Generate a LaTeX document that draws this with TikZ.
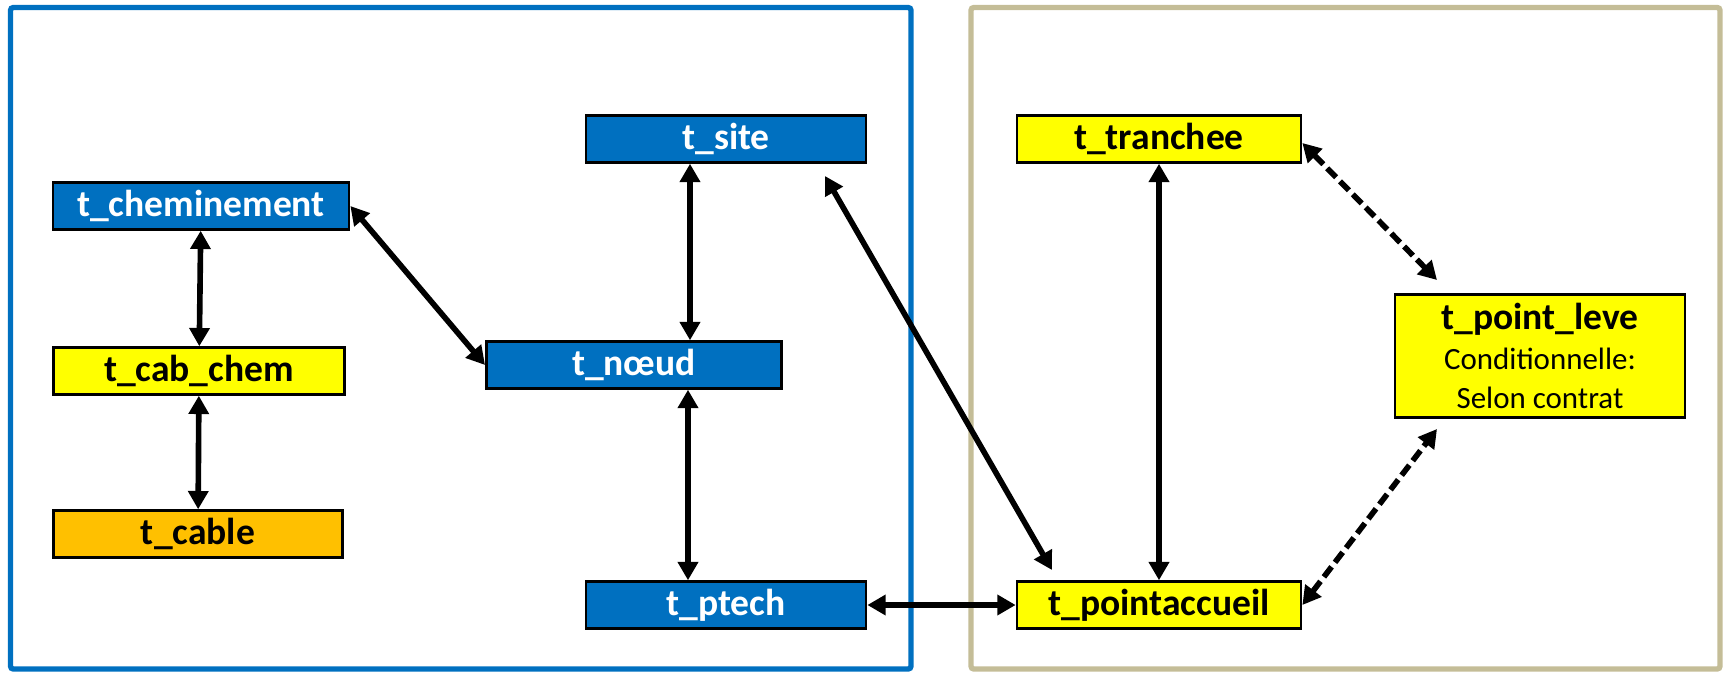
\documentclass[tikz,border=0pt]{standalone}
\usepackage{fontspec}
\setmainfont{Carlito}
\usetikzlibrary{arrows.meta}
\definecolor{tblblue}{HTML}{0070C0}
\definecolor{tblyellow}{HTML}{FFFF00}
\definecolor{tblorange}{HTML}{FFC000}
\definecolor{frametan}{HTML}{C4BD97}
\tikzset{table/.style={
		rectangle,
		draw=black,
		line width=1.9pt,
		inner sep=0pt,
		minimum height=1.17cm,
		font=\fontsize{26.7}{31}\selectfont\bfseries},
	bluetable/.style={table, fill=tblblue, text=white},
	yellowtable/.style={table, fill=tblyellow, text=black},
	orangetable/.style={table, fill=tblorange, text=black},
	frame/.style={line width=3.8pt, rounded corners=2pt},
	link/.style={line width=4pt, {Triangle[length=13pt,width=14pt]}-{Triangle[length=13pt,width=14pt]}},
	optlink/.style={link, dash pattern=on 9pt off 4pt}}

\begin{document}
\begin{tikzpicture}[x=0.025cm, y=-0.025cm]
				\useasboundingbox (0,0) rectangle (1723,672);
				\draw[frame, tblblue] (10.5,7.5) rectangle (911,669);
				\draw[frame, frametan] (971,7.5) rectangle (1720,669);
				
				\node[bluetable, minimum width=7.4cm] (Chem) at (201,206) {t\_cheminement};
				\node[yellowtable, minimum width=7.28cm] (CabChem) at (199,371) {t\_cab\_chem};
				\node[orangetable, minimum width=7.23cm] (Cable) at (198,534) {t\_cable};
				\node[bluetable, minimum width=7cm] (Site) at (726,139) {t\_site};
				\node[bluetable, minimum width=7.38cm] (Noeud) at (634,365) {t\_nœud};
				\node[bluetable, minimum width=7cm] (Ptech) at (726,605) {t\_ptech};
				\node[yellowtable, minimum width=7.1cm] (Tranchee) at (1159,139) {t\_tranchee};
				\node[yellowtable, minimum width=7.1cm] (Accueil) at (1159,605) {t\_pointaccueil};
				\node[yellowtable, minimum width=7.25cm, minimum height=3.08cm, align=center,
					font=\fontsize{22}{28}\selectfont] (Leve) at (1540,356)
					{{\fontsize{26.7}{28}\selectfont\bfseries t\_point\_leve}\\Conditionnelle:\\Selon contrat};
				
				\coordinate (SiteEnd) at (825,176);
				\coordinate (AccueilEnd) at (1052,570);
				\coordinate (LeveTop) at (1437,280);
				\coordinate (LeveBottom) at (1437,429);
				
				\draw[link] (Chem) -- (CabChem);
				\draw[link] (CabChem) -- (Cable);
				\draw[link] (Chem.east) -- (Noeud.west);
				\draw[link] ([xshift=-0.9cm]Site.south) -- ([xshift=-0.9cm]Site.south |- Noeud.north);
				\draw[link] ([xshift=-0.95cm]Ptech.north |- Noeud.south) -- ([xshift=-0.95cm]Ptech.north);
				\draw[link] (Ptech.east) -- (Accueil.west);
				\draw[link] (SiteEnd) -- (AccueilEnd);
				\draw[link] (Tranchee) -- (Accueil);
				\draw[optlink] ([yshift=-0.1cm]Tranchee.east) -- (LeveTop);
				\draw[optlink] (Accueil.east) -- (LeveBottom);
			\end{tikzpicture}
\end{document}
